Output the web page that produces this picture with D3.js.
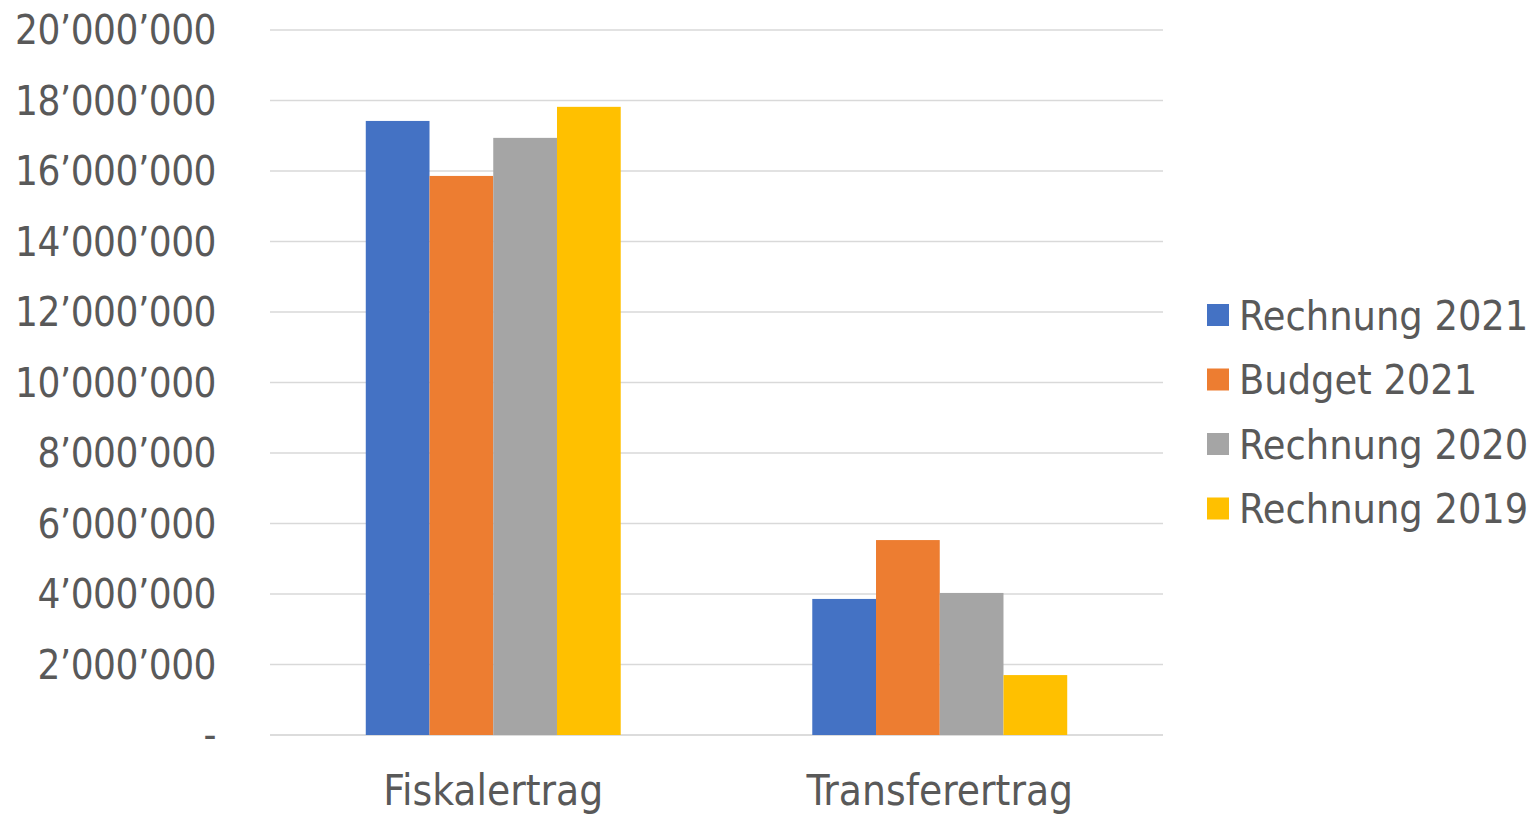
<!DOCTYPE html>
<html>
<head>
<meta charset="utf-8">
<script src="https://cdn.jsdelivr.net/npm/d3@7"></script>
<style>
  body { margin: 0; background: #fff; }
  text { font-family: "DejaVu Sans Condensed", "DejaVu Sans", sans-serif; fill: #595959; }
</style>
</head>
<body>
<div id="chart"></div>
<script>
var categories = ["Fiskalertrag", "Transferertrag"];
var seriesNames = ["Rechnung 2021", "Budget 2021", "Rechnung 2020", "Rechnung 2019"];
var seriesColors = ["#4472C4", "#ED7D31", "#A5A5A5", "#FFC000"];
var rechnung2021 = [17420000, 3860000];
var budget2021 = [15860000, 5530000];
var rechnung2020 = [16940000, 4030000];
var rechnung2019 = [17820000, 1700000];
var yTicks = [0, 2000000, 4000000, 6000000, 8000000, 10000000, 12000000, 14000000, 16000000, 18000000, 20000000];

var seriesValues = [rechnung2021, budget2021, rechnung2020, rechnung2019];

var width = 1536, height = 814;
var plotLeft = 270, plotRight = 1163, plotTop = 30, plotBottom = 735;

var svg = d3.select("#chart").append("svg")
    .attr("width", width)
    .attr("height", height);

var locale = d3.formatLocale({decimal: ".", thousands: "\u2019", grouping: [3], currency: ["", ""]});
var fmt = locale.format(",.0f");

var y = d3.scaleLinear().domain([0, 20000000]).range([plotBottom, plotTop]);
var x0 = d3.scaleBand().domain(categories).range([plotLeft, plotRight]).paddingInner(0.429).paddingOuter(0.2145);
var x1 = d3.scaleBand().domain(seriesNames).range([0, x0.bandwidth()]);

// gridlines
svg.append("g").selectAll("line")
    .data(yTicks).enter()
    .append("line")
    .attr("x1", plotLeft).attr("x2", plotRight)
    .attr("y1", function(d) { return y(d); })
    .attr("y2", function(d) { return y(d); })
    .attr("stroke", function(d) { return d === 0 ? "#D0D0D0" : "#D9D9D9"; })
    .attr("stroke-width", 1.5);

// y labels
svg.append("g").selectAll("text")
    .data(yTicks).enter()
    .append("text")
    .attr("x", 216)
    .attr("y", function(d) { return y(d); })
    .attr("dy", "0.36em")
    .attr("text-anchor", "end")
    .attr("font-size", 40)
    .attr("letter-spacing", "-0.5px")
    .text(function(d) { return d === 0 ? "-" : fmt(d); });

// bars
var groups = svg.append("g").selectAll("g")
    .data(categories).enter()
    .append("g")
    .attr("transform", function(d) { return "translate(" + x0(d) + ",0)"; });

groups.selectAll("rect")
    .data(function(c, ci) {
        return seriesNames.map(function(s, si) { return {name: s, value: seriesValues[si][ci], color: seriesColors[si]}; });
    }).enter()
    .append("rect")
    .attr("x", function(d) { return x1(d.name); })
    .attr("width", x1.bandwidth())
    .attr("y", function(d) { return y(d.value); })
    .attr("height", function(d) { return y(0) - y(d.value); })
    .attr("fill", function(d) { return d.color; });

// category labels
svg.append("g").selectAll("text")
    .data(categories).enter()
    .append("text")
    .attr("x", function(d) { return x0(d) + x0.bandwidth() / 2; })
    .attr("y", 805)
    .attr("text-anchor", "middle")
    .attr("font-size", 42)
    .text(function(d) { return d; });

// legend
var legend = svg.append("g").selectAll("g")
    .data(seriesNames).enter()
    .append("g")
    .attr("transform", function(d, i) { return "translate(1207," + (315 + i * 64.5) + ")"; });

legend.append("rect")
    .attr("x", 0).attr("y", -11)
    .attr("width", 22).attr("height", 22)
    .attr("fill", function(d, i) { return seriesColors[i]; });

legend.append("text")
    .attr("x", 32)
    .attr("dy", "0.36em")
    .attr("font-size", 41)
    .text(function(d) { return d; });
</script>
</body>
</html>
